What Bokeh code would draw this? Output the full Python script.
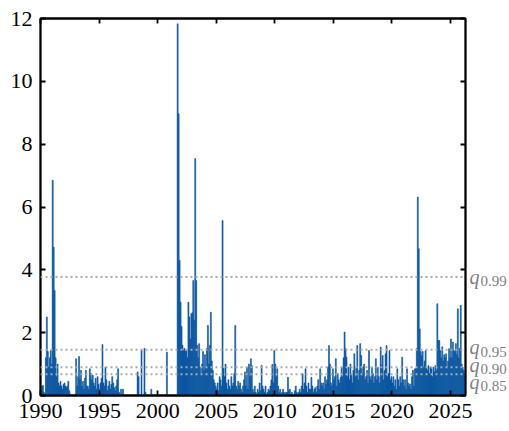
from bokeh.plotting import figure
from bokeh.models import Span, LinearAxis, FixedTicker
from bokeh.embed import file_html
from bokeh.resources import INLINE

# Monthly values (Jan..Dec), one decade per list, starting January 1990
monthly_1990s = [
    0.0, 0.3, 0.32, 0.1, 0.05, 1.2, 2.5, 1.4, 0.9, 1.2, 1.43, 1.0,        # 1990
    6.85, 4.72, 3.34, 1.2, 0.6, 1.0, 0.4, 0.3, 0.45, 0.3, 0.2, 0.35,      # 1991
    0.4, 0.3, 0.25, 0.3, 0.45, 0.15, 0.05, 0.0, 0.02, 0.0, 0.0, 0.05,     # 1992
    1.17, 0.3, 0.6, 1.24, 0.5, 0.8, 0.3, 0.45, 0.2, 0.55, 0.8, 0.3,       # 1993
    0.3, 0.2, 0.85, 0.7, 0.5, 0.65, 0.4, 0.3, 0.55, 0.2, 0.6, 0.35,       # 1994
    0.2, 0.4, 0.55, 1.62, 0.4, 0.3, 0.9, 0.5, 0.15, 0.3, 0.45, 0.2,       # 1995
    0.35, 0.6, 0.4, 0.25, 0.15, 0.3, 0.5, 0.85, 0.1, 0.05, 0.2, 0.0,      # 1996
    0.2, 0.0, 0.0, 0.0, 0.0, 0.0, 0.0, 0.0, 0.0, 0.0, 0.0, 0.0,           # 1997
    0.0, 0.0, 0.0, 0.75, 0.6, 0.0, 0.0, 1.46, 0.0, 0.0, 1.5, 0.1,         # 1998
    0.0, 0.0, 0.0, 0.0, 0.0, 0.2, 0.0, 0.0, 0.0, 0.0, 0.0, 0.0,           # 1999
]
monthly_2000s = [
    0.0, 0.0, 0.0, 0.0, 0.0, 0.0, 0.0, 0.0, 0.0, 1.38, 0.0, 0.0,          # 2000
    0.0, 0.0, 0.0, 0.0, 0.0, 0.0, 0.0, 0.0, 11.83, 8.97, 4.3, 2.97,       # 2001
    2.2, 1.6, 1.43, 1.5, 1.4, 1.45, 1.2, 2.97, 2.5, 1.8, 2.6, 2.63,       # 2002
    3.66, 2.4, 7.54, 3.66, 1.6, 1.2, 1.65, 0.9, 0.7, 1.0, 1.4, 0.8,       # 2003
    1.3, 0.9, 1.5, 2.23, 1.0, 1.6, 2.65, 1.1, 0.8, 0.5, 0.4, 0.3,         # 2004
    0.2, 0.4, 0.15, 0.6, 0.5, 0.3, 5.57, 0.87, 0.6, 1.0, 0.4, 0.2,        # 2005
    0.5, 0.3, 0.2, 0.6, 0.3, 0.4, 0.7, 2.23, 0.3, 0.2, 0.45, 0.3,         # 2006
    0.4, 0.2, 0.1, 0.3, 0.5, 0.75, 0.3, 0.9, 0.2, 1.0, 0.6, 1.17,         # 2007
    0.95, 0.2, 0.1, 0.3, 0.1, 0.05, 0.2, 0.1, 0.4, 0.15, 0.96, 0.3,       # 2008
    0.2, 0.1, 0.3, 0.05, 0.1, 0.2, 0.15, 0.3, 0.5, 0.99, 0.4, 1.43,       # 2009
]
monthly_2010s = [
    1.0, 0.6, 0.85, 0.3, 0.1, 0.2, 0.05, 0.1, 0.2, 0.1, 0.05, 0.1,        # 2010
    0.1, 0.58, 0.15, 0.2, 0.05, 0.1, 0.0, 0.05, 0.15, 0.3, 0.1, 0.05,     # 2011
    0.1, 0.2, 0.1, 0.3, 0.69, 0.2, 0.4, 0.85, 0.3, 0.1, 0.4, 0.2,         # 2012
    0.2, 0.58, 0.3, 0.1, 0.2, 0.25, 0.1, 0.3, 0.5, 0.2, 0.85, 0.4,        # 2013
    0.3, 0.4, 0.2, 0.6, 0.35, 0.5, 0.9, 1.59, 1.0, 0.4, 0.3, 0.85,        # 2014
    0.5, 0.6, 1.17, 0.3, 0.7, 0.5, 0.4, 0.58, 0.9, 0.6, 1.2, 2.02,        # 2015
    1.49, 1.22, 0.6, 0.9, 0.5, 1.0, 0.7, 0.4, 0.8, 1.33, 0.6, 0.9,        # 2016
    1.59, 0.5, 0.8, 1.65, 1.27, 0.7, 0.9, 1.0, 0.5, 0.6, 0.8, 0.4,        # 2017
    1.43, 0.6, 0.5, 0.9, 0.7, 0.4, 0.6, 1.17, 0.5, 0.9, 0.6, 0.4,         # 2018
    1.54, 0.97, 1.27, 0.5, 0.8, 1.33, 1.59, 0.6, 0.7, 1.43, 0.5, 0.6,     # 2019
]
monthly_2020s = [
    0.4, 0.6, 0.3, 0.5, 0.2, 0.85, 0.5, 0.3, 0.6, 0.4, 1.22, 0.5,         # 2020
    0.3, 0.5, 0.2, 0.85, 0.4, 0.3, 0.37, 0.2, 0.6, 0.8, 0.3, 0.85,        # 2021
    0.85, 1.5, 6.32, 4.67, 2.12, 1.4, 1.27, 1.4, 0.9, 1.1, 1.43, 0.9,     # 2022
    0.8, 0.95, 0.7, 0.9, 0.85, 0.6, 0.9, 0.75, 0.95, 0.8, 2.92, 1.75,     # 2023
    1.75, 1.43, 1.2, 1.55, 1.1, 1.3, 1.2, 1.33, 0.9, 1.1, 1.49, 1.2,      # 2024
    1.8, 1.2, 1.7, 1.43, 1.4, 1.65, 1.3, 2.76, 1.2, 1.5, 2.87, 1.0,       # 2025
    0.9, 0.8, 0.7,                                                        # 2026
]

start_year = 1990
x_end = 2026.28
y_top = 12

quantile_levels = ["0.99", "0.95", "0.90", "0.85"]
quantile_values = [3.77, 1.46, 0.90, 0.68]

xtick_years = [1990, 1995, 2000, 2005, 2010, 2015, 2020, 2025]
yticks = [0, 2, 4, 6, 8, 10, 12]

BLUE = "#0a56a0"
GREY = "#7f7f7f"
FONT = "Liberation Serif"

FRAME_W, FRAME_H = 425, 377

values = monthly_1990s + monthly_2000s + monthly_2010s + monthly_2020s
centers = [start_year + (i + 0.5) / 12 for i in range(len(values))]

p = figure(frame_width=FRAME_W, frame_height=FRAME_H,
           x_range=(start_year, x_end), y_range=(0, y_top),
           output_backend="svg", toolbar_location=None,
           min_border_left=40, min_border_right=44,
           min_border_top=18, min_border_bottom=36)
p.grid.visible = False
p.background_fill_color = "white"
p.border_fill_color = "white"
p.outline_line_color = "black"
p.outline_line_width = 1.8

p.vbar(x=centers, top=values, bottom=0, width=1 / 12,
       fill_color=BLUE, line_color=BLUE, line_width=0.6)

# quantile reference lines
for q in quantile_values:
    p.add_layout(Span(location=q, dimension="width", line_color="#aaaaaa",
                      line_width=2, line_dash="2 3"))


def style_axis(ax, ticks, labelled):
    ax.ticker = FixedTicker(ticks=ticks)
    ax.axis_line_color = "black"
    ax.axis_line_width = 1.8
    ax.major_tick_in = 5
    ax.major_tick_out = 0
    ax.major_tick_line_width = 1.8
    ax.minor_tick_line_color = None
    ax.major_label_text_font = FONT
    ax.major_label_text_color = "black"
    if labelled:
        ax.major_label_text_font_size = "22px"
        ax.major_label_standoff = 8
    else:
        ax.major_label_text_font_size = "1px"
        ax.major_label_text_color = None
        ax.major_label_standoff = 0


style_axis(p.xaxis[0], xtick_years, True)
style_axis(p.yaxis[0], yticks, True)
top_axis = LinearAxis()
right_axis = LinearAxis()
p.add_layout(top_axis, "above")
p.add_layout(right_axis, "right")
style_axis(top_axis, xtick_years, False)
style_axis(right_axis, yticks, False)

# q labels beside the right frame edge: one axis carries the italic q,
# a second one the subscript level, each nudged a few pixels off its line
px_per_unit = FRAME_H / y_top
q_shift_px = [0.0, -2.2, -2.5, 7.5]
sub_shift_px = [4.4, 2.2, 1.9, 11.9]


def label_axis(texts, shifts, size, style, standoff):
    pos = [round(q - s / px_per_unit, 4) for q, s in zip(quantile_values, shifts)]
    ax = LinearAxis(ticker=FixedTicker(ticks=pos),
                    major_label_overrides={v: t for v, t in zip(pos, texts)})
    ax.axis_line_color = None
    ax.major_tick_line_color = None
    ax.minor_tick_line_color = None
    ax.major_tick_in = 0
    ax.major_tick_out = 0
    ax.major_label_standoff = standoff
    ax.major_label_text_font = FONT
    ax.major_label_text_font_style = style
    ax.major_label_text_font_size = size
    ax.major_label_text_color = GREY
    p.add_layout(ax, "right")


label_axis(["q"] * len(quantile_values), q_shift_px, "20px", "italic", 4)
label_axis(quantile_levels, sub_shift_px, "15px", "normal", -2)

open("out.html", "w").write(file_html(p, INLINE))
